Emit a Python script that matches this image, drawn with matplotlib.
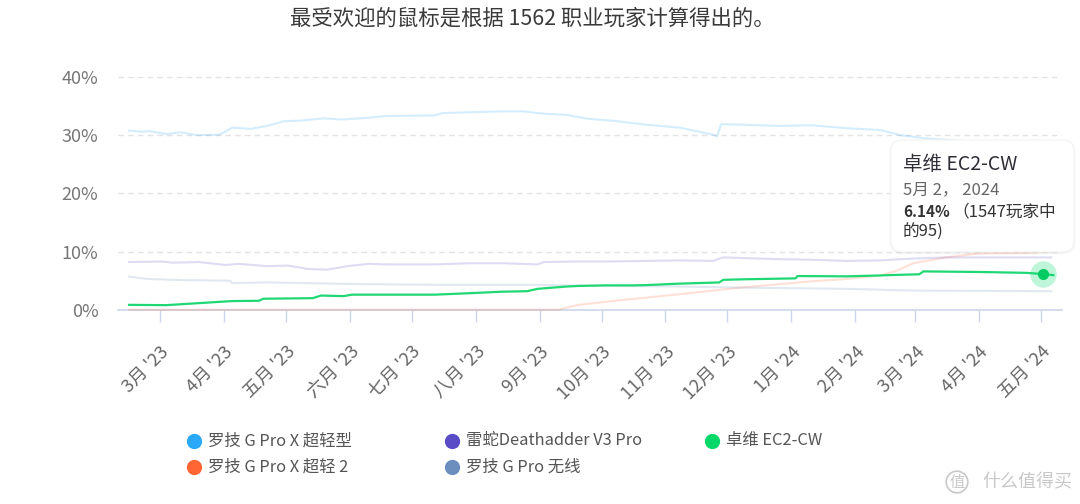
import matplotlib
matplotlib.use("Agg")
import matplotlib.pyplot as plt
import matplotlib.transforms as mtransforms
from matplotlib.patches import FancyBboxPatch
from datetime import datetime, timedelta
import pandas as pd

plt.rcParams['font.family'] = ['Noto Sans CJK SC', 'DejaVu Sans']

# ---------------- data ----------------
title = "最受欢迎的鼠标是根据 1562 职业玩家计算得出的。"

series_names = ["罗技 G Pro X 超轻型", "罗技 G Pro X 超轻 2", "雷蛇Deathadder V3 Pro",
                "罗技 G Pro 无线", "卓维 EC2-CW"]
series_colors = ["#2AA8FA", "#FF6633", "#5A4BC6", "#6C8EBF", "#00D96A"]

superlight_dates = ["2023-02-14", "2023-02-20", "2023-02-24", "2023-03-04", "2023-03-11",
                    "2023-03-19", "2023-03-30", "2023-04-05", "2023-04-14", "2023-04-22",
                    "2023-04-30", "2023-05-08", "2023-05-19", "2023-05-28", "2023-06-10",
                    "2023-06-18", "2023-07-12", "2023-07-16", "2023-08-13", "2023-08-24",
                    "2023-09-03", "2023-09-14", "2023-09-25", "2023-10-06", "2023-10-23",
                    "2023-11-08", "2023-11-24", "2023-11-26", "2023-11-28", "2023-12-10",
                    "2023-12-26", "2024-01-11", "2024-01-28", "2024-02-13", "2024-02-23",
                    "2024-03-05", "2024-04-01", "2024-05-06"]
superlight_vals = [30.8, 30.6, 30.7, 30.2, 30.5,
                   30.0, 30.1, 31.3, 31.1, 31.6,
                   32.4, 32.5, 32.9, 32.7, 33.0,
                   33.3, 33.4, 33.8, 34.1, 34.1,
                   33.7, 33.5, 32.8, 32.5, 31.8,
                   31.3, 30.1, 29.8, 31.9, 31.8,
                   31.6, 31.7, 31.2, 30.9, 30.0,
                   29.5, 28.8, 28.3]

superlight2_dates = ["2023-02-14", "2023-09-10", "2023-09-19", "2023-10-06", "2023-10-23",
                     "2023-11-08", "2023-11-24", "2023-12-10", "2023-12-26", "2024-01-11",
                     "2024-01-28", "2024-02-13", "2024-02-21", "2024-02-29", "2024-03-16",
                     "2024-04-01", "2024-04-25", "2024-05-06"]
superlight2_vals = [0.0, 0.0, 0.8, 1.5, 2.1,
                    2.7, 3.3, 3.9, 4.4, 4.9,
                    5.3, 5.9, 6.7, 8.0, 9.0,
                    9.7, 9.8, 10.0]

deathadder_dates = ["2023-02-14", "2023-03-02", "2023-03-07", "2023-03-20", "2023-04-02",
                    "2023-04-08", "2023-04-22", "2023-05-02", "2023-05-12", "2023-05-21",
                    "2023-05-31", "2023-06-10", "2023-06-18", "2023-07-12", "2023-07-29",
                    "2023-08-14", "2023-08-31", "2023-09-03", "2023-09-19", "2023-10-03",
                    "2023-10-23", "2023-11-08", "2023-11-24", "2023-11-29", "2023-12-26",
                    "2024-01-11", "2024-01-28", "2024-02-13", "2024-02-29", "2024-03-16",
                    "2024-04-01", "2024-04-25", "2024-05-06"]
deathadder_vals = [8.2, 8.3, 8.1, 8.2, 7.7,
                   7.9, 7.5, 7.6, 7.0, 6.9,
                   7.5, 7.9, 7.8, 7.8, 8.0,
                   8.0, 7.8, 8.2, 8.3, 8.3,
                   8.4, 8.5, 8.4, 9.0, 8.7,
                   8.6, 8.4, 8.5, 8.8, 9.0,
                   9.0, 9.0, 9.0]

gpro_dates = ["2023-02-14", "2023-02-23", "2023-03-12", "2023-04-04", "2023-04-05",
              "2023-04-22", "2023-05-08", "2023-06-09", "2023-07-12", "2023-08-29",
              "2023-10-02", "2023-11-08", "2023-12-10", "2024-01-28", "2024-02-29",
              "2024-05-06"]
gpro_vals = [5.7, 5.3, 5.1, 5.0, 4.6,
             4.7, 4.6, 4.4, 4.3, 4.3,
             4.1, 4.0, 3.8, 3.6, 3.3,
             3.2]

ec2_dates = ["2023-02-14", "2023-03-04", "2023-03-20", "2023-04-05", "2023-04-18",
             "2023-04-20", "2023-05-14", "2023-05-18", "2023-05-29", "2023-06-02",
             "2023-07-12", "2023-07-29", "2023-08-13", "2023-08-26", "2023-08-31",
             "2023-09-14", "2023-09-20", "2023-10-03", "2023-10-16", "2023-10-23",
             "2023-11-08", "2023-11-27", "2023-11-29", "2023-12-10", "2024-01-03",
             "2024-01-04", "2024-01-28", "2024-02-13", "2024-02-21", "2024-03-03",
             "2024-03-05", "2024-04-01", "2024-04-24", "2024-05-02", "2024-05-07"]
ec2_vals = [0.85, 0.8, 1.15, 1.5, 1.55,
            1.9, 2.0, 2.45, 2.35, 2.6,
            2.6, 2.85, 3.1, 3.2, 3.6,
            4.0, 4.1, 4.2, 4.2, 4.25,
            4.5, 4.7, 5.15, 5.25, 5.4,
            5.8, 5.75, 5.9, 6.0, 6.1,
            6.6, 6.5, 6.35, 6.14, 5.95]

tooltip_date = "2024-05-02"
tooltip_value = 6.14
tooltip_title = "卓维 EC2-CW"
tooltip_date_text = "5月 2， 2024"
tooltip_pct_text = "6.14%"
tooltip_rest1 = "（1547玩家中"
tooltip_rest2 = "的95)"

month_ticks = ["2023-03-01", "2023-04-01", "2023-05-01", "2023-06-01", "2023-07-01",
               "2023-08-01", "2023-09-01", "2023-10-01", "2023-11-01", "2023-12-01",
               "2024-01-01", "2024-02-01", "2024-03-01", "2024-04-01", "2024-05-01"]
month_labels = ["3月 '23", "4月 '23", "五月 '23", "六月 '23", "七月 '23", "八月 '23",
                "9月 '23", "10月 '23", "11月 '23", "12月 '23", "1月 '24", "2月 '24",
                "3月 '24", "4月 '24", "五月 '24"]
y_ticks = [0, 10, 20, 30, 40]
y_labels = ["0%", "10%", "20%", "30%", "40%"]

# ---------------- figure ----------------
W, H = 1080, 504
fig = plt.figure(figsize=(W / 100, H / 100), dpi=100)
fig.patch.set_facecolor("white")

ax_left, ax_right = 118, 1062
ax_bottom_px, ax_top_px = 309.8, 65.4
ax = fig.add_axes([ax_left / W, 1 - ax_bottom_px / H,
                   (ax_right - ax_left) / W, (ax_bottom_px - ax_top_px) / H])

all_series = [
    (superlight_dates, superlight_vals),
    (superlight2_dates, superlight2_vals),
    (deathadder_dates, deathadder_vals),
    (gpro_dates, gpro_vals),
    (ec2_dates, ec2_vals),
]
for i, ((d, v), c) in enumerate(zip(all_series, series_colors)):
    dts = pd.to_datetime(d)
    if i == 4:
        ax.plot(dts, v, color="#1FD874", lw=1.6, zorder=5, clip_on=False,
                solid_joinstyle="round")
    else:
        ax.plot(dts, v, color=c, lw=1.5, alpha=0.2, zorder=3, clip_on=False)

# hovered point with halo
tp = pd.to_datetime([tooltip_date])
ax.plot(tp, [tooltip_value], 'o', ms=19, color="#00D96A", alpha=0.25,
        mec="none", zorder=6, clip_on=False)
ax.plot(tp, [tooltip_value], 'o', ms=8, color="#00CC63", mec="none",
        zorder=7, clip_on=False)

base = datetime(2023, 3, 1)
ppd = (1041 - 160) / 427.0
ax.set_xlim(base + timedelta(days=(ax_left - 160) / ppd),
            base + timedelta(days=(ax_right - 160) / ppd))
ax.set_ylim(0, 42)

ax.set_xticks(pd.to_datetime(month_ticks))
ax.set_xticklabels(month_labels, rotation=45, ha="right", rotation_mode="anchor",
                   fontsize=13, color="#666666")
shift = mtransforms.ScaledTranslation(3 / 100, 0, fig.dpi_scale_trans)
for lab in ax.get_xticklabels():
    lab.set_transform(lab.get_transform() + shift)
ax.set_yticks(y_ticks)
ax.set_yticklabels(y_labels, fontsize=13, color="#777777")

ax.tick_params(axis="x", length=8.6, width=1, color="#CCD6EB", pad=15)
ax.tick_params(axis="y", length=0, pad=14)

for s in ["top", "right", "left"]:
    ax.spines[s].set_visible(False)
ax.spines["bottom"].set_color("#CCD6EB")
ax.spines["bottom"].set_linewidth(1.2)

for yv in y_ticks[1:]:
    ax.axhline(yv, color="#E3E3E3", lw=1, ls=(0, (4, 3)), zorder=1)
ax.set_facecolor("none")

# title
fig.text(532 / W, 1 - 19 / H, title, ha="center", va="center", fontsize=15.4,
         color="#3A3A3A")

# ---------------- overlay (legend, tooltip, watermark) ----------------
ov = fig.add_axes([0, 0, 1, 1])
ov.set_xlim(0, W)
ov.set_ylim(H, 0)
ov.axis("off")
ov.patch.set_alpha(0)
ov.set_zorder(10)

legend_pos = [(194, 441), (194, 467), (452, 441), (452, 467), (712, 441)]
for (lx, ly), name, c in zip(legend_pos, series_names, series_colors):
    ov.plot([lx], [ly], 'o', ms=11, color=c, mec="none")
    ov.text(lx + 14, ly, name, ha="left", va="center", fontsize=11.8, color="#555555")

# tooltip with soft shadow
bx0, by0, bx1, by1 = 891, 140, 1074, 252
for k, a in [(3, 0.015), (2, 0.025), (1, 0.035)]:
    ov.add_patch(FancyBboxPatch((bx0 - k + 1, by0 - k + 2), bx1 - bx0 + 2 * k - 2,
                                by1 - by0 + 2 * k - 2,
                                boxstyle="round,pad=0,rounding_size=13",
                                fc="#000000", ec="none", alpha=a))
ov.add_patch(FancyBboxPatch((bx0, by0), bx1 - bx0, by1 - by0,
                            boxstyle="round,pad=0,rounding_size=12",
                            fc="white", ec="#F4F4F4", lw=0.8))
ov.text(903, 164, tooltip_title, ha="left", va="center", fontsize=14, color="#2E2E38")
ov.text(903, 190, tooltip_date_text, ha="left", va="center", fontsize=12, color="#666666")
ov.text(903, 212, tooltip_pct_text, ha="left", va="center", fontsize=11,
        color="#333333", fontweight="bold")
ov.text(952, 212, tooltip_rest1, ha="left", va="center", fontsize=12, color="#333333")
ov.text(903, 232, tooltip_rest2, ha="left", va="center", fontsize=12, color="#333333")

# watermark
ov.text(957, 482, "值", ha="center", va="center", fontsize=11, color="#C8C8C8",
        bbox=dict(boxstyle="circle,pad=0.15", fc="none", ec="#C8C8C8", lw=1.2))
ov.text(982, 482, "什么值得买", ha="left", va="center", fontsize=13, color="#C8C8C8")

fig.savefig("out.png", dpi=100, facecolor="white")
